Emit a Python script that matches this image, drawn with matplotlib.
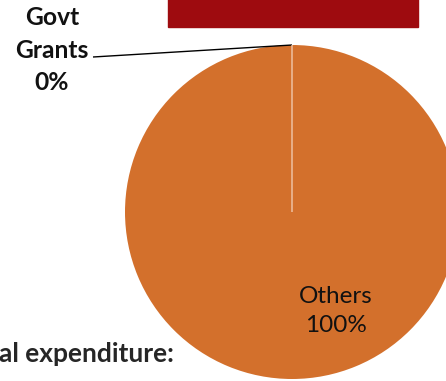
import numpy as np
import matplotlib.pyplot as plt
from matplotlib.patches import Rectangle

# Funding sources
sources = ["Govt Grants", "Others"]
amounts = [0, 100]

slice_color = "#D3702C"
banner_color = "#9E0B0F"

plt.rcParams['font.family'] = ['Lato', 'DejaVu Sans']

fig = plt.figure(figsize=(4.46, 3.81), dpi=100)
ax = fig.add_axes([0, 0, 1, 1])

center = (292, 169)
radius = 167
wedges, _ = ax.pie(amounts, colors=[slice_color, slice_color], startangle=90,
                   counterclock=False, center=center, radius=radius,
                   wedgeprops=dict(edgecolor='#F4D3BC', linewidth=0.9))
# the full slice would otherwise draw a seam at 0 degrees
wedges[1].set_edgecolor('none')
wedges[0].set_zorder(3)

ax.set_xlim(0, 446)
ax.set_ylim(0, 381)
ax.set_aspect('auto')
ax.axis('off')

total = sum(amounts)

# zero-size slice: label sits outside with a leader line to its edge
theta = np.deg2rad(wedges[0].theta1)
tip = (center[0] + radius * np.cos(theta), center[1] + radius * np.sin(theta))
ax.plot([93, tip[0]], [324, tip[1]], color='black', lw=1.0, solid_capstyle='butt')
ax.text(52, 331, f"Govt\n{sources[0].split()[1]}\n{amounts[0] / total:.0%}",
        ha='center', va='center', fontsize=17.7, fontweight='bold',
        linespacing=1.5, color='#111111')

ax.text(336, 70, f"{sources[1]}\n{amounts[1] / total:.0%}",
        ha='center', va='center', fontsize=17.5, linespacing=1.5, color='#111111')

# banner above the chart
ax.add_patch(Rectangle((168, 354), 250, 30, color=banner_color, zorder=4))

ax.text(-1, 19, "al expenditure:", ha='left', va='baseline', fontsize=19,
        fontweight='bold', color='#262626')

fig.savefig("out.png", dpi=100)
